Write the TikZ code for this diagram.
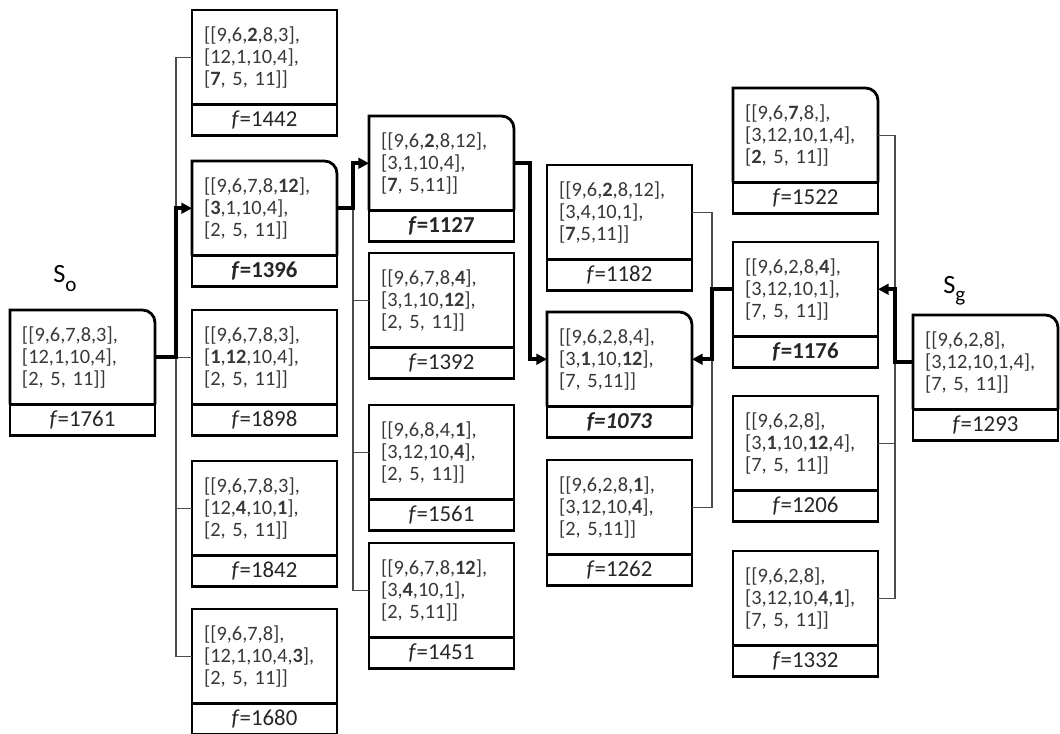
\documentclass[tikz,border=0pt]{standalone}
\usepackage{fontspec}
\setmainfont{Carlito}
\usetikzlibrary{positioning,arrows.meta}

\begin{document}
\begin{tikzpicture}[x=0.02cm, y=-0.02cm,
    state/.style={draw, line width=1.6pt, minimum width=2.9cm, minimum height=1.89cm,
        text width=2.42cm, inner xsep=0.24cm, inner ysep=0pt, outer sep=0pt, align=left,
        anchor=north west, font=\fontsize{11.6}{12.5}\selectfont, text=black!78},
    rstate/.style={state, draw=none},
    fval/.style={draw, line width=1.6pt, minimum width=2.9cm, minimum height=0.62cm,
        inner sep=0pt, outer sep=0pt, font=\fontsize{13}{13}\selectfont, text=black!85},
    label/.style={anchor=base west, inner sep=0pt, font=\fontsize{15}{15}\selectfont},
    link/.style={line width=0.8pt, black!70},
    best/.style={line width=2.4pt, -{Triangle[length=6pt,width=6pt]}},
    edge/.style={line width=1.6pt}]

    \useasboundingbox (0,0) rectangle (1060,733);

    \def\rr{0.25cm}
    \def\roundtop#1{\draw[edge] (#1.south west) |- ([xshift=-\rr]#1.north east)
        arc[start angle=90, end angle=0, radius=\rr] -- (#1.south east);}

    % start state
    \node[label] (lso) at (53,282) {S\raisebox{-5.5pt}{\fontsize{12}{12}\selectfont o}};
    \node[rstate] (s0) at (10,310) {[[9,6,7,8,3],\\{}[12,1,10,4],\\{}[2, 5, 11]]};
    \node[fval, below=0pt of s0] (s0f) {\textit{f}=1761};
    \roundtop{s0}

    % first expansion
    \node[state] (b1) at (192,10) {[[9,6,\textbf{2},8,3],\\{}[12,1,10,4],\\{}[\textbf{7}, 5, 11]]};
    \node[fval, below=0pt of b1] (b1f) {\textit{f}=1442};
    \node[rstate] (b2) at (192,161) {[[9,6,7,8,\textbf{12}],\\{}[\textbf{3},1,10,4],\\{}[2, 5, 11]]};
    \node[fval, below=0pt of b2] (b2f) {\textbf{\textit{f}=1396}};
    \roundtop{b2}
    \node[state] (b3) at (192,310) {[[9,6,7,8,3],\\{}[\textbf{1},\textbf{12},10,4],\\{}[2, 5, 11]]};
    \node[fval, below=0pt of b3] (b3f) {\textit{f}=1898};
    \node[state] (b4) at (192,461) {[[9,6,7,8,3],\\{}[12,\textbf{4},10,\textbf{1}],\\{}[2, 5, 11]]};
    \node[fval, below=0pt of b4] (b4f) {\textit{f}=1842};
    \node[state] (b5) at (192,609) {[[9,6,7,8],\\{}[12,1,10,4,\textbf{3}],\\{}[2, 5, 11]]};
    \node[fval, below=0pt of b5] (b5f) {\textit{f}=1680};

    % second expansion
    \node[rstate] (c1) at (369,116) {[[9,6,\textbf{2},8,12],\\{}[3,1,10,4],\\{}[\textbf{7}, 5,11]]};
    \node[fval, below=0pt of c1] (c1f) {\textbf{\textit{f}=1127}};
    \roundtop{c1}
    \node[state] (c2) at (369,253) {[[9,6,7,8,\textbf{4}],\\{}[3,1,10,\textbf{12}],\\{}[2, 5, 11]]};
    \node[fval, below=0pt of c2] (c2f) {\textit{f}=1392};
    \node[state] (c3) at (369,405) {[[9,6,8,4,\textbf{1}],\\{}[3,12,10,\textbf{4}],\\{}[2, 5, 11]]};
    \node[fval, below=0pt of c3] (c3f) {\textit{f}=1561};
    \node[state] (c4) at (369,543) {[[9,6,7,8,\textbf{12}],\\{}[3,\textbf{4},10,1],\\{}[2, 5,11]]};
    \node[fval, below=0pt of c4] (c4f) {\textit{f}=1451};

    % meeting column
    \node[state] (d1) at (547,165) {[[9,6,\textbf{2},8,12],\\{}[3,4,10,1],\\{}[\textbf{7},5,11]]};
    \node[fval, below=0pt of d1] (d1f) {\textit{f}=1182};
    \node[rstate] (d2) at (547,312) {[[9,6,2,8,4],\\{}[3,\textbf{1},10,\textbf{12}],\\{}[7, 5,11]]};
    \node[fval, below=0pt of d2] (d2f) {\textbf{\textit{f=1073}}};
    \roundtop{d2}
    \node[state] (d3) at (547,460) {[[9,6,2,8,\textbf{1}],\\{}[3,12,10,\textbf{4}],\\{}[2, 5,11]]};
    \node[fval, below=0pt of d3] (d3f) {\textit{f}=1262};

    % backward expansion
    \node[rstate] (e1) at (733,88) {[[9,6,\textbf{7},8,],\\{}[3,12,10,1,4],\\{}[\textbf{2}, 5, 11]]};
    \node[fval, below=0pt of e1] (e1f) {\textit{f}=1522};
    \roundtop{e1}
    \node[state] (e2) at (733,242) {[[9,6,2,8,\textbf{4}],\\{}[3,12,10,1],\\{}[7, 5, 11]]};
    \node[fval, below=0pt of e2] (e2f) {\textbf{\textit{f}=1176}};
    \node[state] (e3) at (733,396) {[[9,6,2,8],\\{}[3,\textbf{1},10,\textbf{12},4],\\{}[7, 5, 11]]};
    \node[fval, below=0pt of e3] (e3f) {\textit{f}=1206};
    \node[state] (e4) at (733,551) {[[9,6,2,8],\\{}[3,12,10,\textbf{4},\textbf{1}],\\{}[7, 5, 11]]};
    \node[fval, below=0pt of e4] (e4f) {\textit{f}=1332};

    % goal state
    \node[label] (lsg) at (943,293) {S\raisebox{-5pt}{\fontsize{12}{12}\selectfont g}};
    \node[rstate] (sg) at (913,315) {[[9,6,2,8],\\{}[3,12,10,1,4],\\{}[7, 5, 11]]};
    \node[fval, below=0pt of sg] (sgf) {\textit{f}=1293};
    \roundtop{sg}

    \coordinate (busb) at (176,0);
    \coordinate (busc) at (353,0);
    \coordinate (busd) at (530,0);
    \coordinate (buse) at (712,0);
    \coordinate (busf) at (895,0);

    \draw[link] (b1.west) -| (busb |- b5.west) -- (b5.west);
    \draw[link] (b3.west) -- (b3.west -| busb);
    \draw[link] (b4.west) -- (b4.west -| busb);
    \draw[link] (b2.east) -| (busc |- c4.west) -- (c4.west);
    \draw[link] (c2.west) -- (c2.west -| busc);
    \draw[link] (c3.west) -- (c3.west -| busc);
    \draw[link] (d1.east) -| (buse |- d3.east) -- (d3.east);
    \draw[link] (e1.east) -| (busf |- e4.east) -- (e4.east);
    \draw[link] (e3.east) -- (e3.east -| busf);

    \draw[best] (s0.east) -- (s0.east -| busb) |- (b2.west);
    \draw[best] (b2.east) -- (b2.east -| busc) |- (c1.west);
    \draw[best] (c1.east) -- (c1.east -| busd) |- (d2.west);
    \draw[best] (sg.west) -- (sg.west -| busf) |- (e2.east);
    \draw[best] (e2.west) -- (e2.west -| buse) |- (d2.east);
\end{tikzpicture}
\end{document}
